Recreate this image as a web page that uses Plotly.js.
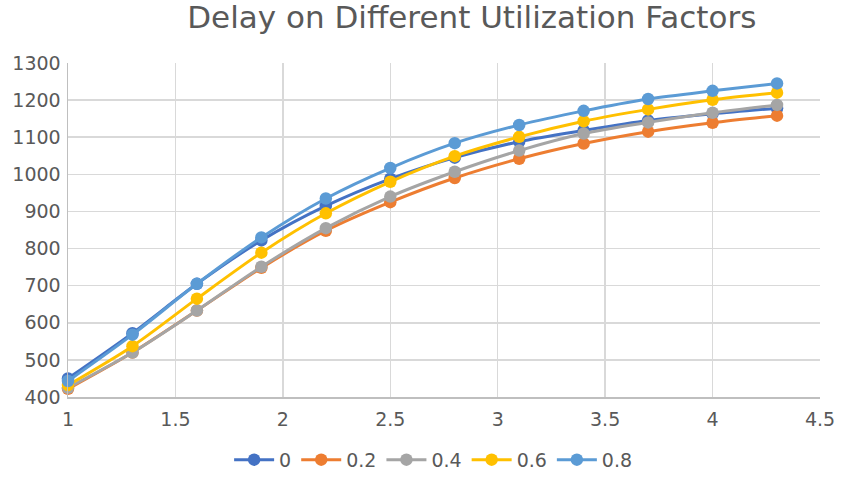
<!DOCTYPE html>
<html>
<head>
<meta charset="utf-8">
<script src="https://cdn.plot.ly/plotly-3.0.1.min.js"></script>
<style>
  html, body { margin: 0; padding: 0; background: #fff; }
  #chart { width: 841px; height: 477px; }
</style>
</head>
<body>
<div id="chart"></div>
<script>
// Load factor on the x axis, shared by every series
const factors = [1, 1.3, 1.6, 1.9, 2.2, 2.5, 2.8, 3.1, 3.4, 3.7, 4.0, 4.3];

// Delay for each utilization factor
const seriesNames = ['0', '0.2', '0.4', '0.6', '0.8'];
const delayU00 = [450, 572, 705, 822, 915, 988, 1045, 1088, 1118, 1145, 1163, 1178];
const delayU02 = [422, 520, 633, 748, 848, 925, 990, 1042, 1083, 1115, 1139, 1158];
const delayU04 = [425, 520, 633, 751, 855, 940, 1007, 1064, 1110, 1140, 1166, 1187];
const delayU06 = [432, 537, 665, 789, 895, 980, 1049, 1101, 1143, 1175, 1201, 1220];
const delayU08 = [443, 568, 705, 830, 935, 1017, 1084, 1133, 1171, 1203, 1225, 1245];

const seriesValues = [delayU00, delayU02, delayU04, delayU06, delayU08];
const colors = ['#4472C4', '#ED7D31', '#A5A5A5', '#FFC000', '#5B9BD5'];

const traces = seriesValues.map((vals, i) => ({
  x: factors,
  y: vals,
  name: seriesNames[i],
  type: 'scatter',
  mode: 'lines+markers',
  line: { color: colors[i], width: 3, shape: 'spline', smoothing: 0.8 },
  marker: { color: colors[i], size: 12.5 },
  cliponaxis: false
}));

const fontFamily = 'DejaVu Sans, sans-serif';
const tickFont = { family: fontFamily, size: 19, color: '#595959' };

const layout = {
  width: 841,
  height: 477,
  margin: { l: 68, r: 21, t: 63, b: 80 },
  paper_bgcolor: '#ffffff',
  plot_bgcolor: '#ffffff',
  title: {
    text: 'Delay on Different Utilization Factors',
    font: { family: fontFamily, size: 31, color: '#595959' },
    x: 0.561, xanchor: 'center',
    y: 0.965, yanchor: 'middle'
  },
  xaxis: {
    range: [1, 4.5],
    dtick: 0.5,
    tick0: 1,
    showgrid: true,
    gridcolor: '#d9d9d9',
    gridwidth: 1.5,
    zeroline: false,
    showline: true,
    linecolor: '#bfbfbf',
    linewidth: 1.5,
    ticks: '',
    tickfont: tickFont,
    ticklabelstandoff: 5,
    automargin: false
  },
  yaxis: {
    range: [400, 1300],
    dtick: 100,
    showgrid: true,
    gridcolor: '#d9d9d9',
    gridwidth: 1.5,
    zeroline: false,
    showline: true,
    linecolor: '#bfbfbf',
    linewidth: 1.5,
    ticks: '',
    tickfont: tickFont,
    ticklabelstandoff: 2,
    automargin: false
  },
  legend: {
    orientation: 'h',
    xref: 'container', yref: 'container',
    x: 0.515, xanchor: 'center',
    y: 0.036, yanchor: 'middle',
    font: { family: fontFamily, size: 19, color: '#595959' },
    itemwidth: 40,
    tracegroupgap: 0
  },
  showlegend: true
};

Plotly.newPlot('chart', traces, layout, { displayModeBar: false, staticPlot: true });
</script>
</body>
</html>
